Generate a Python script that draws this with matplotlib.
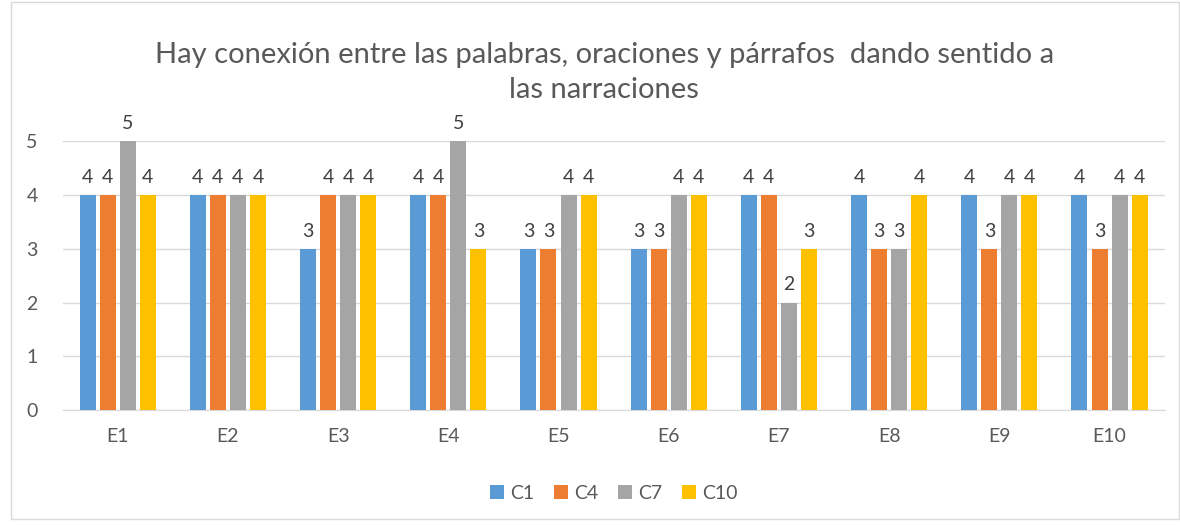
import numpy as np
import matplotlib.pyplot as plt
from matplotlib.patches import Rectangle

plt.rcParams['font.family'] = ['Lato', 'DejaVu Sans']

categories = ['E1', 'E2', 'E3', 'E4', 'E5', 'E6', 'E7', 'E8', 'E9', 'E10']
series = ['C1', 'C4', 'C7', 'C10']
c1 = [4, 4, 3, 4, 3, 3, 4, 4, 4, 4]
c4 = [4, 4, 4, 4, 3, 3, 4, 3, 3, 3]
c7 = [5, 4, 4, 5, 4, 4, 2, 3, 4, 4]
c10 = [4, 4, 4, 3, 4, 4, 3, 4, 4, 4]
colors = ['#5B9BD5', '#ED7D31', '#A5A5A5', '#FFC000']
txt = '#595959'

fig = plt.figure(figsize=(11.8, 5.25), dpi=100)
ax = fig.add_axes([0.053, 0.219, 0.934, 0.512])

x = np.arange(len(categories))
step = 0.182
width = 0.145
for i, (name, vals) in enumerate(zip(series, [c1, c4, c7, c10])):
    pos = x + (i - 1.5) * step
    bars = ax.bar(pos, vals, width, color=colors[i], label=name, zorder=3)
    for b, v in zip(bars, vals):
        ax.text(b.get_x() + b.get_width() / 2, v + 0.17, str(v), ha='center',
                va='bottom', fontsize=14, color='#404040', clip_on=False)

ax.set_xlim(-0.5, len(categories) - 0.5)
ax.set_ylim(0, 5)
ax.set_yticks(range(6))
ax.set_xticks(x)
ax.set_xticklabels(categories)
ax.grid(axis='y', color='#D9D9D9', linewidth=1, zorder=0)
for s in ['top', 'right', 'left']:
    ax.spines[s].set_visible(False)
ax.spines['bottom'].set_color('#D9D9D9')
ax.tick_params(length=0, labelsize=14, colors=txt)
ax.tick_params(axis='x', pad=13)
ax.tick_params(axis='y', pad=18)

fig.text(0.512, 0.92, 'Hay conexión entre las palabras, oraciones y párrafos  dando sentido a\nlas narraciones',
         ha='center', va='top', fontsize=21, color=txt, linespacing=1.45)

leg = fig.legend(loc='center', bbox_to_anchor=(0.52, 0.06), ncol=4, frameon=False,
                 fontsize=14, handlelength=0.75, handleheight=0.75, handletextpad=0.3,
                 columnspacing=1.0)
for t in leg.get_texts():
    t.set_color(txt)

fig.patches.append(Rectangle((0.009, 0.012), 0.99, 0.985, transform=fig.transFigure,
                             fill=False, edgecolor='#D9D9D9', linewidth=1))

fig.savefig('out.png', dpi=100)
